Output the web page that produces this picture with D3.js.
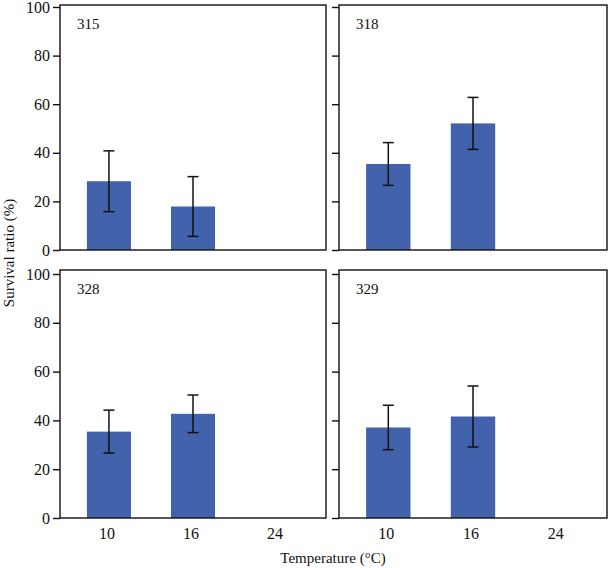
<!DOCTYPE html>
<html>
<head>
<meta charset="utf-8">
<script src="https://cdn.jsdelivr.net/npm/d3@7"></script>
<style>
  html, body { margin: 0; padding: 0; background: #fff; }
  svg { display: block; }
  text { font-family: "Liberation Serif", "Times New Roman", serif; fill: #111; }
</style>
</head>
<body>
<svg id="chart" width="609" height="568"></svg>
<script>
// ---- data ----
const categories = ["10", "16", "24"];
const strains = ["315", "318", "328", "329"];
const meanValues = [
  [28.3, 17.9, null],
  [35.4, 52.1, null],
  [35.4, 42.7, null],
  [37.1, 41.6, null]
];
const errValues = [
  [12.5, 12.3, null],
  [8.8, 10.7, null],
  [8.8, 7.7, null],
  [9.1, 12.5, null]
];
const yTicks = [0, 20, 40, 60, 80, 100];
const xTitle = "Temperature (\u00B0C)";
const yTitle = "Survival ratio (%)";

// ---- layout ----
const svg = d3.select("#chart");
const cols = [{ x0: 60, x1: 326 }, { x0: 339, x1: 607 }];
const rows = [{ top: 5, y0: 250, y100: 7 }, { top: 270, y0: 518, y100: 274 }];
const barColor = "#4262ab";

strains.forEach((name, i) => {
  const r = Math.floor(i / 2), c = i % 2;
  const col = cols[c], row = rows[r];
  const g = svg.append("g");

  const x = d3.scaleBand().domain(categories).range([col.x0, col.x1])
    .paddingInner(0.476).paddingOuter(0.32);
  const y = d3.scaleLinear().domain([0, 100]).range([row.y0, row.y100]);

  const data = categories.map((cat, k) => ({ cat, m: meanValues[i][k], e: errValues[i][k] }))
    .filter(d => d.m != null);

  // bars
  g.selectAll("rect.bar").data(data).enter().append("rect")
    .attr("class", "bar")
    .attr("x", d => x(d.cat))
    .attr("width", x.bandwidth())
    .attr("y", d => y(d.m))
    .attr("height", d => y(0) - y(d.m))
    .attr("fill", barColor);

  // error bars
  const capW = 5.5;
  const eb = g.selectAll("g.err").data(data).enter().append("g").attr("class", "err")
    .attr("stroke", "#111").attr("stroke-width", 1.5);
  eb.append("line")
    .attr("x1", d => x(d.cat) + x.bandwidth() / 2).attr("x2", d => x(d.cat) + x.bandwidth() / 2)
    .attr("y1", d => y(d.m + d.e)).attr("y2", d => y(d.m - d.e));
  eb.append("line")
    .attr("x1", d => x(d.cat) + x.bandwidth() / 2 - capW).attr("x2", d => x(d.cat) + x.bandwidth() / 2 + capW)
    .attr("y1", d => y(d.m + d.e)).attr("y2", d => y(d.m + d.e));
  eb.append("line")
    .attr("x1", d => x(d.cat) + x.bandwidth() / 2 - capW).attr("x2", d => x(d.cat) + x.bandwidth() / 2 + capW)
    .attr("y1", d => y(d.m - d.e)).attr("y2", d => y(d.m - d.e));

  // frame
  g.append("rect")
    .attr("x", col.x0).attr("y", row.top)
    .attr("width", col.x1 - col.x0).attr("height", row.y0 - row.top)
    .attr("fill", "none").attr("stroke", "#111").attr("stroke-width", 1.4);

  // y axis
  const yAxis = d3.axisLeft(y).tickValues(yTicks).tickSize(7).tickPadding(3)
    .tickFormat(c === 0 ? d3.format("d") : () => "");
  const ya = g.append("g").attr("transform", `translate(${col.x0},0)`).call(yAxis);
  ya.select(".domain").remove();
  ya.selectAll(".tick line").attr("stroke", "#111").attr("stroke-width", 1.4);
  ya.selectAll(".tick text").attr("font-size", 16).attr("fill", "#111")
    .style("font-family", "'Liberation Serif', serif");

  // x axis labels on bottom row
  if (r === 1) {
    const xAxis = d3.axisBottom(x).tickSize(0).tickPadding(10);
    const xa = g.append("g").attr("transform", `translate(-2,${row.y0})`).call(xAxis);
    xa.select(".domain").remove();
    xa.selectAll(".tick text").attr("font-size", 16).attr("fill", "#111")
      .style("font-family", "'Liberation Serif', serif");
  }

  // panel label
  g.append("text")
    .attr("x", col.x0 + 17).attr("y", row.top + 24)
    .attr("font-size", 15).text(name);
});

// axis titles
svg.append("text")
  .attr("x", 333).attr("y", 563)
  .attr("text-anchor", "middle").attr("font-size", 15).text(xTitle);
svg.append("text")
  .attr("transform", "translate(14,253) rotate(-90)")
  .attr("text-anchor", "middle").attr("font-size", 15).text(yTitle);
</script>
</body>
</html>
